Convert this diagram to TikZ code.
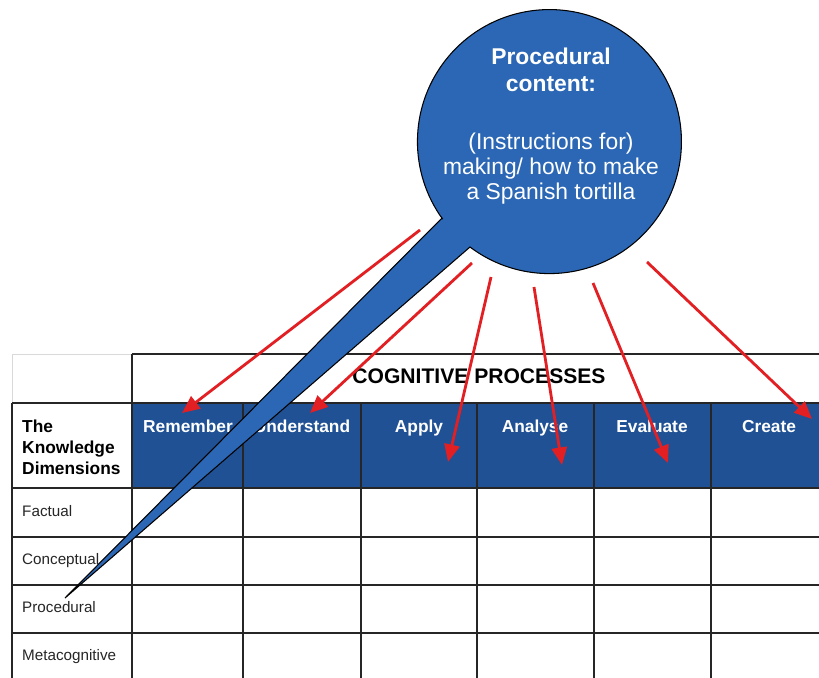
\documentclass[tikz,border=0pt]{standalone}
\usepackage{fontspec}
\setmainfont{Liberation Sans}
\usetikzlibrary{arrows.meta}
\definecolor{hdrblue}{RGB}{31,81,148}
\definecolor{bubbleblue}{RGB}{43,103,180}
\definecolor{arrowred}{RGB}{226,32,36}

\begin{document}
\begin{tikzpicture}[x=0.3mm, y=-0.3mm,
		gridline/.style={line width=0.9pt, color=black!85},
		redarrow/.style={line width=2.4pt, color=arrowred, -{Triangle[length=15pt, width=13pt]}},
		colhead/.style={anchor=base, inner sep=0, text=white, font=\fontsize{14.8}{17}\selectfont\bfseries},
		rowlabel/.style={anchor=base west, inner sep=0, text=black!85, font=\fontsize{13}{15}\selectfont},
		bubbletext/.style={anchor=north, inner sep=0, align=center, text=white}]
		%%%%% START %%%%%
		
		\useasboundingbox (0,0) rectangle (819,678);
		\fill[white] (0,0) rectangle (819,678);
		
		\fill[hdrblue] (132,403) rectangle (830,488);
		\draw[line width=0.8pt, color=black!15] (12,403) -- (12,354) -- (132,354);
		
		\draw[gridline] (132,354) -- (830,354);
		\draw[gridline] (12,403) -- (830,403);
		\draw[gridline] (12,488) -- (830,488);
		\draw[gridline] (12,537) -- (830,537);
		\draw[gridline] (12,585) -- (830,585);
		\draw[gridline] (12,633) -- (830,633);
		
		\draw[gridline] (12,403) -- (12,690);
		\draw[gridline] (132,354) -- (132,690);
		\draw[gridline] (243,403) -- (243,690);
		\draw[gridline] (361,403) -- (361,690);
		\draw[gridline] (477,403) -- (477,690);
		\draw[gridline] (594,403) -- (594,690);
		\draw[gridline] (711,403) -- (711,690);
		
		\node[anchor=base, inner sep=0, font=\fontsize{18}{21}\selectfont\bfseries] (cogproc) at (479,383) {COGNITIVE PROCESSES};
		
		\node[colhead] (remember) at (188,432) {Remember};
		\node[colhead] (understand) at (302,432) {Understand};
		\node[colhead] (apply) at (419,432) {Apply};
		\node[colhead] (analyse) at (535,432) {Analyse};
		\node[colhead] (evaluate) at (652,432) {Evaluate};
		\node[colhead] (create) at (769,432) {Create};
		
		\node[anchor=north west, inner sep=0, align=left, font=\fontsize{14.8}{17.9}\selectfont\bfseries] (dims) at (22,420) {The\\Knowledge\\Dimensions};
		
		\node[rowlabel] (factual) at (22,516) {Factual};
		\node[rowlabel] (conceptual) at (22,564) {Conceptual};
		\node[rowlabel] (procedural) at (22,612) {Procedural};
		\node[rowlabel] (metacog) at (22,660) {Metacognitive};
		
		% callout
		\draw[line width=0.9pt, fill=bubbleblue] (442,218) -- (65,598) -- (470,247) arc[start angle=127, end angle=-216, radius=132] -- cycle;
		
		\node[bubbletext, font=\fontsize{19.5}{23}\selectfont\bfseries] (title) at (551,48) {Procedural\\content:};
		\node[bubbletext, font=\fontsize{19.5}{21.3}\selectfont] (body) at (551,133) {(Instructions for)\\making/ how to make\\a Spanish tortilla};
		
		\coordinate (from-remember) at (420,230);
		\coordinate (to-remember) at (182,413);
		\coordinate (from-understand) at (472,263);
		\coordinate (to-understand) at (310,413);
		\coordinate (from-apply) at (491,277);
		\coordinate (to-apply) at (448,462);
		\coordinate (from-analyse) at (534,287);
		\coordinate (to-analyse) at (562,465);
		\coordinate (from-evaluate) at (593,283);
		\coordinate (to-evaluate) at (668,463);
		\coordinate (from-create) at (647,262);
		\coordinate (to-create) at (812,419);
		
		\draw[redarrow] (from-remember) -- (to-remember);
		\draw[redarrow] (from-understand) -- (to-understand);
		\draw[redarrow] (from-apply) -- (to-apply);
		\draw[redarrow] (from-analyse) -- (to-analyse);
		\draw[redarrow] (from-evaluate) -- (to-evaluate);
		\draw[redarrow] (from-create) -- (to-create);
		
		%%%%% END %%%%%
	\end{tikzpicture}
\end{document}
